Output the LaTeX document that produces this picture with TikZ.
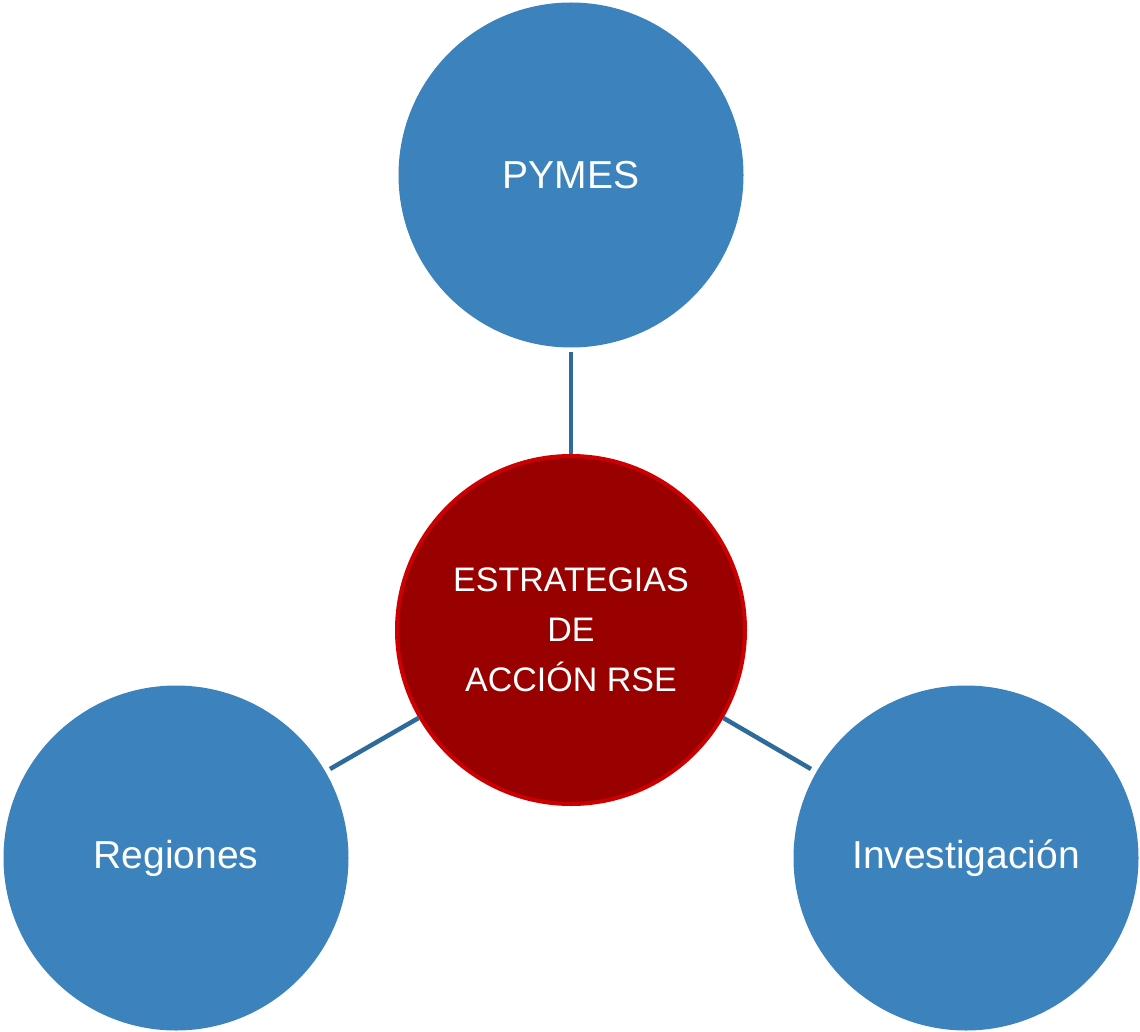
\documentclass[tikz,border=0pt]{standalone}
\usepackage{fontspec}
\setmainfont{Liberation Sans}
\definecolor{bluefill}{HTML}{3C83BD}
\definecolor{redfill}{HTML}{990000}
\definecolor{redline}{HTML}{CC0000}
\definecolor{linkcol}{HTML}{2E6A9A}
\tikzset{
  topic/.style={circle, fill=bluefill, minimum size=345pt, inner sep=0pt, text=white, font=\fontsize{39}{46}\selectfont},
  hub/.style={circle, fill=redfill, draw=redline, line width=4pt, minimum size=348pt, inner sep=0pt, text=white, align=center, font=\fontsize{34}{50}\selectfont},
  link/.style={draw=linkcol, line width=4.5pt}
}
\begin{document}
\begin{tikzpicture}[x=1pt,y=-1pt]
\useasboundingbox (0,0) rectangle (1140,1032);
\node[topic] (pymes) at (571,175) {PYMES};
\node[topic] (reg) at (176,858) {Regiones};
\node[topic] (inv) at (966,858) {Investigación};
\node[hub] (hub) at (571,630) {ESTRATEGIAS\\DE\\ACCIÓN RSE};
\coordinate (t1) at (571,352);
\coordinate (l1) at (330,769);
\coordinate (r1) at (811,769);
\draw[link] (t1) -- (hub.north);
\draw[link] (l1) -- (hub.210);
\draw[link] (r1) -- (hub.330);
\end{tikzpicture}
\end{document}
